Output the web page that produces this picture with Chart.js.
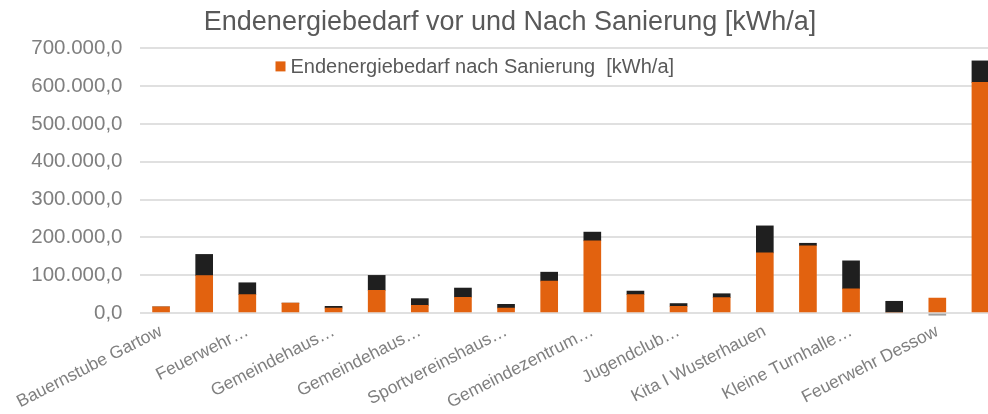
<!DOCTYPE html>
<html>
<head>
<meta charset="utf-8">
<script src="https://cdn.jsdelivr.net/npm/chart.js@4.4.1/dist/chart.umd.min.js"></script>
<style>
  html, body { margin: 0; padding: 0; background: #fff; overflow: hidden; }
  #wrap { width: 1002px; height: 414px; }
</style>
</head>
<body>
<div id="wrap"><canvas id="myChart"></canvas></div>
<script>
// data
const categories = ['Bauernstube Gartow', '', 'Feuerwehr…', '', 'Gemeindehaus…', '',
    'Gemeindehaus…', '', 'Sportvereinshaus…', '', 'Gemeindezentrum…', '', 'Jugendclub…', '',
    'Kita I Wusterhauen', '', 'Kleine Turnhalle…', '', 'Feuerwehr Dessow', '']
const nachSanierung = [16000, 99000, 48500, 26000, 13000, 60000, 20000, 41500, 13000, 84500,
    191000, 48500, 17700, 40500, 159000, 178000, 64000, 0, 39500, 610000]
const einsparung = [0, 56000, 31500, 0, 4700, 39500, 18000, 24500, 10000, 23500,
    23000, 9500, 7300, 10500, 71500, 6500, 74000, 31000, -6000, 57000]
const yTicks = [0, 100000, 200000, 300000, 400000, 500000, 600000, 700000]

const titleText = 'Endenergiebedarf vor und Nach Sanierung [kWh/a]'
const legendText = 'Endenergiebedarf nach Sanierung  [kWh/a]'

// colors
const orange = '#e2620f'
const dark = '#1f1f1f'
const fontFamily = '"Liberation Sans", Arial, sans-serif'

const numFmt = new Intl.NumberFormat('de-DE', {minimumFractionDigits: 1, maximumFractionDigits: 1})

// legend drawn inside the plot area, only the orange series is listed
const innerLegend = {
  id: 'innerLegend',
  afterDraw(chart) {
    const ctx = chart.ctx
    const area = chart.chartArea
    const ds = chart.data.datasets[0]
    const x = area.left + 136
    const y = area.top + 18
    ctx.save()
    ctx.fillStyle = ds.backgroundColor
    ctx.fillRect(x, y - 5, 10, 10)
    ctx.fillStyle = '#595959'
    ctx.font = '20px ' + fontFamily
    ctx.textBaseline = 'middle'
    ctx.textAlign = 'left'
    ctx.fillText(ds.label, x + 15, y + 1)
    ctx.restore()
  }
}

const ctx = document.getElementById('myChart')
new Chart(ctx, {
  type: 'bar',
  data: {
    labels: categories,
    datasets: [{
      label: legendText,
      data: nachSanierung,
      backgroundColor: orange,
      barThickness: 17
    }, {
      label: 'Einsparung',
      data: einsparung,
      backgroundColor: einsparung.map(v => v < 0 ? '#a0a0a0' : dark),
      barThickness: 17,
      clip: false
    }]
  },
  options: {
    responsive: true,
    maintainAspectRatio: false,
    animation: false,
    layout: {padding: {left: 18, right: 0, top: 0, bottom: 0}},
    plugins: {
      legend: {display: false},
      tooltip: {enabled: false},
      title: {
        display: true,
        text: titleText,
        color: '#595959',
        font: {family: fontFamily, size: 27, weight: 'normal'},
        padding: {top: 6, bottom: 10}
      }
    },
    scales: {
      x: {
        stacked: true,
        grid: {display: false},
        border: {display: false},
        ticks: {
          autoSkip: false,
          maxRotation: 27,
          minRotation: 27,
          padding: 0,
          color: '#7f7f7f',
          font: {family: fontFamily, size: 17.5}
        },
        afterFit(scale) {
          scale.height = 101
        }
      },
      y: {
        stacked: true,
        min: 0,
        max: 700000,
        border: {display: false},
        grid: {color: '#e0e0e0', lineWidth: 2, drawTicks: false},
        afterBuildTicks(scale) {
          scale.ticks = yTicks.map(v => ({value: v}))
        },
        ticks: {
          padding: 17,
          color: '#7f7f7f',
          font: {family: fontFamily, size: 20.5},
          callback: v => numFmt.format(v)
        },
        afterFit(scale) {
          scale.width = 121.5
        }
      }
    }
  },
  plugins: [innerLegend]
})
</script>
</body>
</html>
